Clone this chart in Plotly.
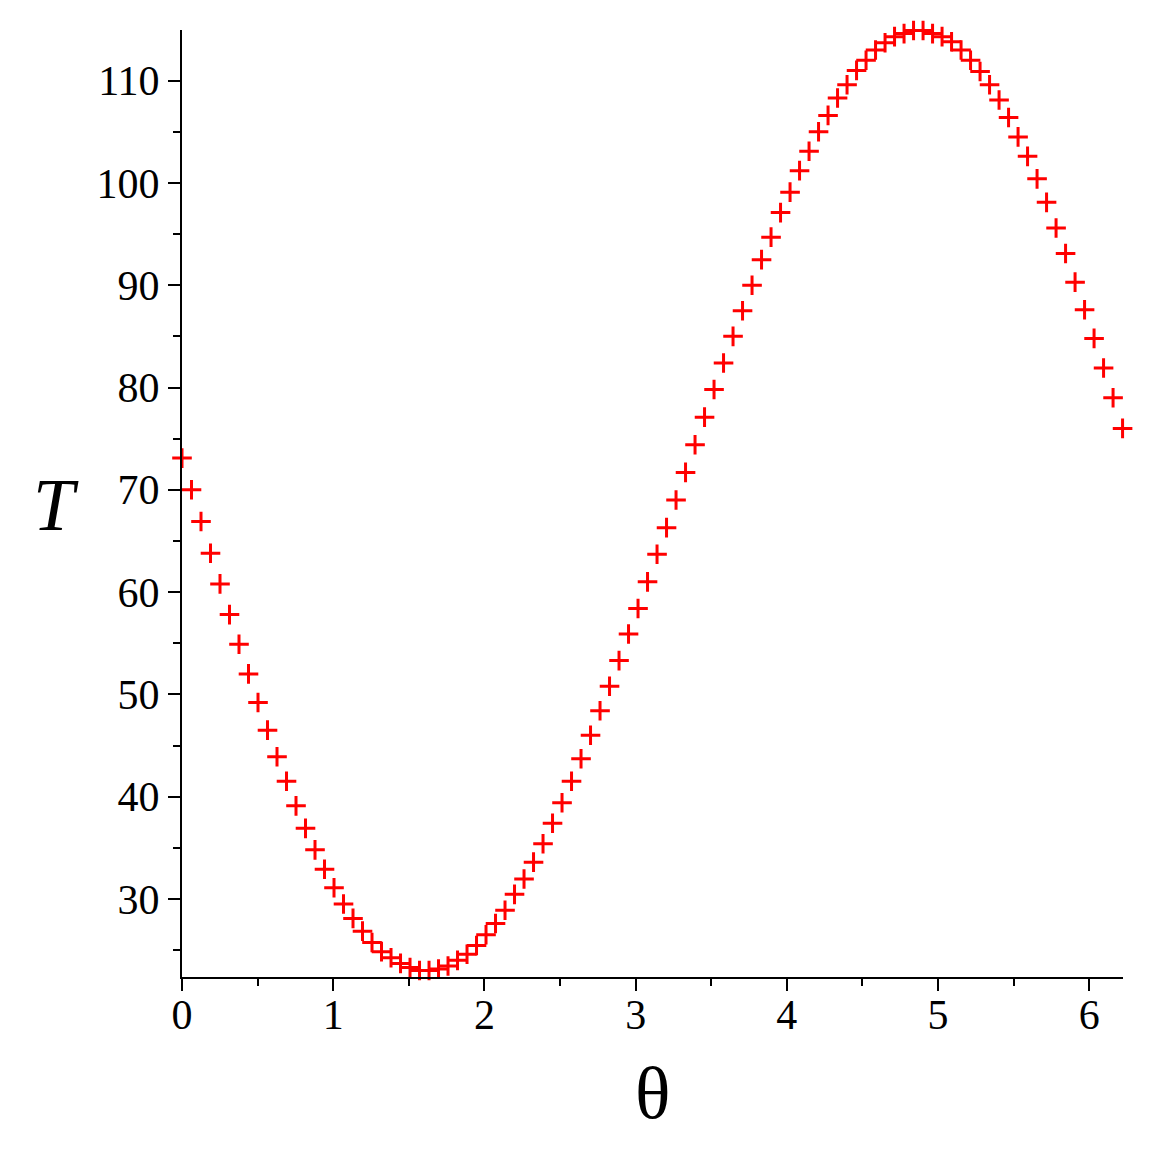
import plotly.graph_objects as go

# Sample index i -> theta = 2*pi*i/100 (100 samples)
n_samples = 100
theta_step = 0.0628319

T_values = [
    73.1, 70.0, 66.9, 63.8, 60.8, 57.8, 54.9, 52.0, 49.2, 46.5,
    43.9, 41.5, 39.1, 36.9, 34.8, 32.9, 31.1, 29.5, 28.1, 26.85,
    25.75, 24.85, 24.25, 23.7, 23.3, 23.0, 23.0, 23.15, 23.45, 24.0,
    24.6, 25.45, 26.5, 27.6, 28.9, 30.45, 31.95, 33.6, 35.4, 37.4,
    39.4, 41.5, 43.7, 46.0, 48.4, 50.8, 53.3, 55.9, 58.4, 61.0,
    63.7, 66.3, 69.0, 71.7, 74.4, 77.1, 79.8, 82.4, 85.0, 87.5,
    90.0, 92.5, 94.7, 97.1, 99.1, 101.2, 103.1, 105.0, 106.6, 108.3,
    109.6, 111.0, 112.0, 113.0, 113.7, 114.3, 114.6, 114.9, 114.9, 114.6,
    114.3, 113.8, 113.0, 112.0, 110.9, 109.6, 108.1, 106.4, 104.5, 102.6,
    100.4, 98.1, 95.6, 93.1, 90.3, 87.6, 84.8, 81.9, 79.0, 76.0,
]
theta_values = [i * theta_step for i in range(n_samples)]

x_tick_vals = [0, 1, 2, 3, 4, 5, 6]
x_tick_text = ["0", "1", "2", "3", "4", "5", "6"]
y_tick_vals = [30, 40, 50, 60, 70, 80, 90, 100, 110]
y_tick_text = ["30", "40", "50", "60", "70", "80", "90", "100", "110"]

FONT = "Liberation Serif, Times New Roman, serif"

fig = go.Figure()
fig.add_trace(go.Scatter(
    x=theta_values, y=T_values, mode="markers",
    marker=dict(symbol="cross-thin", size=14, color="#ff0000",
                line=dict(color="#ff0000", width=3)),
    cliponaxis=False, showlegend=False,
))

axis_common = dict(
    showgrid=False, zeroline=False, showline=True, linecolor="black", linewidth=2,
    ticks="outside", ticklen=12, tickwidth=2, tickcolor="black",
    tickfont=dict(family=FONT, size=42, color="black"),
)

fig.update_layout(
    width=1157, height=1157,
    margin=dict(l=182, r=34, t=30, b=180),
    paper_bgcolor="white", plot_bgcolor="white",
    xaxis=dict(range=[0, 6.2232], tickmode="array", tickvals=x_tick_vals, ticktext=x_tick_text,
               ticklabelstandoff=-12,
               minor=dict(dtick=0.5, ticks="outside", ticklen=7, tickwidth=2, tickcolor="black"),
               **axis_common),
    yaxis=dict(range=[22.37, 114.95], tickmode="array", tickvals=y_tick_vals, ticktext=y_tick_text,
               minor=dict(dtick=5, tick0=0, ticks="outside", ticklen=7, tickwidth=2, tickcolor="black"),
               **axis_common),
    annotations=[
        dict(text="<i>T</i>", xref="paper", yref="paper", x=-0.134, y=0.498,
             showarrow=False, font=dict(family=FONT, size=74, color="black"),
             xanchor="center", yanchor="middle"),
        dict(text="θ", xref="paper", yref="paper", x=0.5, y=-0.122,
             showarrow=False, font=dict(family=FONT, size=74, color="black"),
             xanchor="center", yanchor="middle"),
    ],
)

fig.write_html("out.html")
